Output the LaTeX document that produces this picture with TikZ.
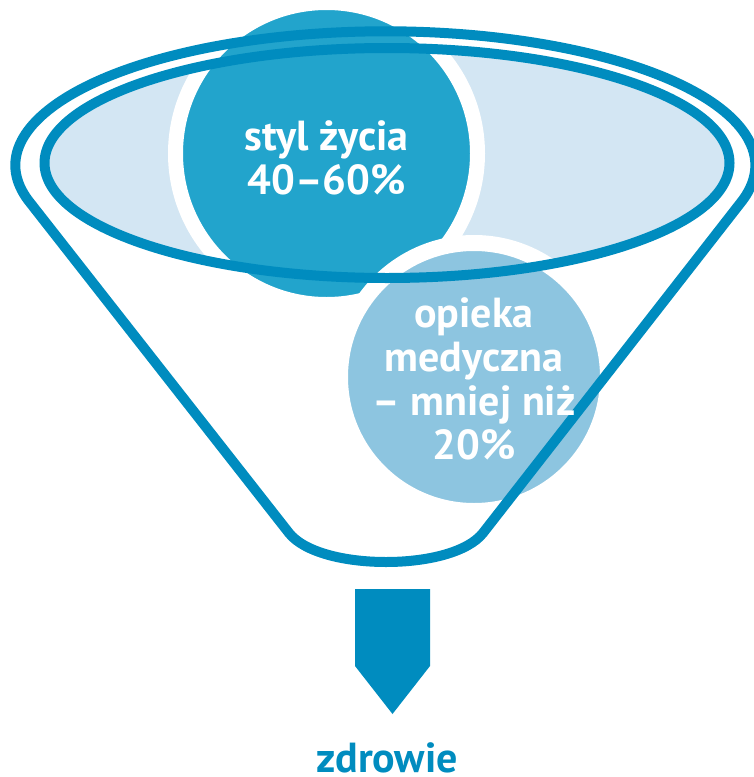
\documentclass[tikz,border=0pt]{standalone}
\usepackage{fontspec}
\setmainfont{PT Sans}

\definecolor{funnelblue}{RGB}{0,140,191}
\definecolor{lifeblue}{RGB}{34,164,204}
\definecolor{careblue}{RGB}{141,197,224}
\definecolor{rimblue}{RGB}{211,230,243}

\begin{document}
\begin{tikzpicture}[
            x = .5pt, y = -.5pt,
            every node/.style={font=\bfseries\fontsize{21}{22}\selectfont, align=center, text depth=0pt},
            line/.style={draw=funnelblue, line width = 5pt, line join=round},
            ball/.style={circle, inner sep=0pt, draw=white},
            whitetext/.style={text=white},
            ]
        \useasboundingbox (0, 0) rectangle (754, 777);

        % rim of the funnel
        \fill[rimblue] (387, 163) ellipse [x radius=342.5, y radius=115];

        \node[ball, fill=lifeblue, line width=7.5pt, minimum size=151pt] (life) at (326.5, 153.5) {};
        \node[ball, fill=careblue, line width=8pt, minimum size=134pt] (care) at (474, 377) {};

        \draw[line] (387, 163) ellipse [x radius=342.5, y radius=115];
        \draw[line] (28, 200) arc[start angle=165, end angle=375, x radius=370, y radius=134]
            -- (483, 533) .. controls (468, 552) and (428, 562) .. (386, 562)
            .. controls (344, 562) and (304, 552) .. (289, 533) -- cycle;

        \node[whitetext] (lifetext) at ([yshift=-2pt]life.center) {styl życia\\40–60\%};
        \node[whitetext] (caretext) at ([yshift=-1pt]care.center) {opieka\\medyczna\\– mniej niż\\20\%};

        % arrow down
        \fill[funnelblue] (355, 589) -- (430, 589) -- (430, 666) -- (392.5, 714) -- (355, 666) -- cycle;
        \node[text=funnelblue, anchor=base, inner sep=1pt] (health) at (387, 772) {zdrowie};
    \end{tikzpicture}
\end{document}
